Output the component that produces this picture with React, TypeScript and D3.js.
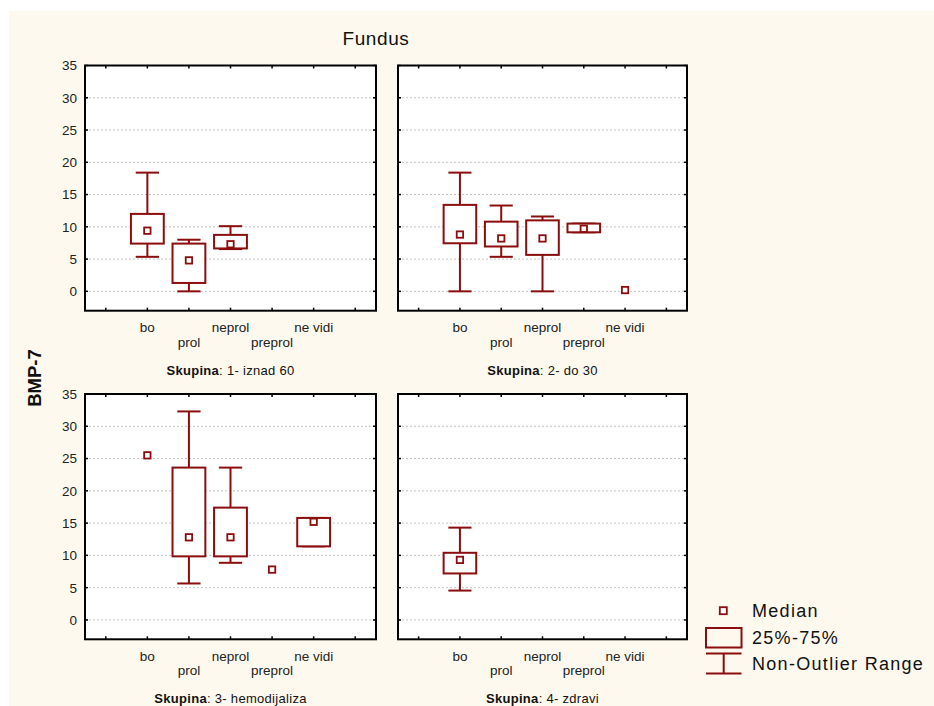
import React from 'react';
import * as d3 from 'd3';

// categories along x (empty slots at both ends)
const categories = ['bo', 'prol', 'neprol', 'preprol', 'ne vidi'];
const groups = ['1- iznad 60', '2- do 30', '3- hemodijaliza', '4- zdravi'];
const yTicks = [0, 5, 10, 15, 20, 25, 30, 35];

// per group, per category (null = no data)
const medians = [
	[9.4, 4.8, 7.3, null, null],
	[8.8, 8.2, 8.2, 9.7, 0.2],
	[25.5, 12.8, 12.8, 7.8, 15.2],
	[9.3, null, null, null, null],
];
const q1 = [
	[7.4, 1.3, 6.65, null, null],
	[7.45, 6.95, 5.65, 9.15, null],
	[null, 9.85, 9.85, null, 11.4],
	[7.2, null, null, null, null],
];
const q3 = [
	[12.0, 7.4, 8.75, null, null],
	[13.4, 10.8, 11.0, 10.5, null],
	[null, 23.6, 17.4, null, 15.8],
	[10.4, null, null, null, null],
];
const whiskerLow = [
	[5.35, 0, 6.55, null, null],
	[0, 5.35, 0, 9.15, null],
	[null, 5.65, 8.85, null, 11.4],
	[4.55, null, null, null, null],
];
const whiskerHigh = [
	[18.4, 8.0, 10.1, null, null],
	[18.4, 13.3, 11.6, 10.5, null],
	[null, 32.3, 23.6, null, 15.8],
	[14.3, null, null, null, null],
];

const RED = '#8b0d0d';
const FONT = '"Liberation Sans", Arial, sans-serif';

const frames = [
	{ x0: 85, x1: 376, y0: 65.5, y1: 310.7, labels: true },
	{ x0: 398, x1: 687, y0: 65.5, y1: 310.7, labels: false },
	{ x0: 85, x1: 376, y0: 394, y1: 639.3, labels: true },
	{ x0: 398, x1: 687, y0: 394, y1: 639.3, labels: false },
];

function Panel({ index }: { index: number }) {
	const f = frames[index];
	const slots = ['_l', ...categories, '_r'];
	const x = d3.scalePoint<string>().domain(slots).range([f.x0, f.x1]).padding(0.5);
	const y = d3.scaleLinear().domain([-3, 35]).range([f.y1, f.y0]);
	const step = x.step();
	const boxW = step * 0.79;
	const capW = step * 0.56;

	return (
		<g>
			<rect x={f.x0} y={f.y0} width={f.x1 - f.x0} height={f.y1 - f.y0} fill="#fff" />
			{yTicks.filter((t) => t < 35).map((t) => (
				<line key={'g' + t} x1={f.x0} x2={f.x1} y1={y(t)} y2={y(t)} stroke="#c4c4c4" strokeWidth={1} strokeDasharray="2,2" />
			))}
			{yTicks.map((t) => (
				<g key={'yt' + t}>
					<line x1={f.x0} x2={f.x0 + 3} y1={y(t)} y2={y(t)} stroke="#000" strokeWidth={1.5} />
					<line x1={f.x1} x2={f.x1 - 3} y1={y(t)} y2={y(t)} stroke="#000" strokeWidth={1.5} />
					{f.labels && (
						<text x={f.x0 - 8} y={y(t)} dy="0.36em" textAnchor="end" fontSize={13.5} fill="#222" fontFamily={FONT}>
							{t}
						</text>
					)}
				</g>
			))}
			{slots.map((s) => (
				<g key={'xt' + s}>
					<line x1={x(s)} x2={x(s)} y1={f.y0} y2={f.y0 + 3} stroke="#000" strokeWidth={1.5} />
					<line x1={x(s)} x2={x(s)} y1={f.y1} y2={f.y1 - 3} stroke="#000" strokeWidth={1.5} />
				</g>
			))}
			{categories.map((c, i) => {
				const cx = x(c) as number;
				const med = medians[index][i];
				const lo = q1[index][i];
				const hi = q3[index][i];
				const wl = whiskerLow[index][i];
				const wh = whiskerHigh[index][i];
				return (
					<g key={c}>
						{lo !== null && hi !== null && wl !== null && wh !== null && (
							<g stroke={RED} strokeWidth={2} fill="none">
								<line x1={cx} x2={cx} y1={y(hi)} y2={y(wh)} />
								<line x1={cx} x2={cx} y1={y(lo)} y2={y(wl)} />
								<line x1={cx - capW / 2} x2={cx + capW / 2} y1={y(wh)} y2={y(wh)} />
								<line x1={cx - capW / 2} x2={cx + capW / 2} y1={y(wl)} y2={y(wl)} />
								<rect x={cx - boxW / 2} y={y(hi)} width={boxW} height={y(lo) - y(hi)} fill="#fff" />
							</g>
						)}
						{med !== null && (
							<rect x={cx - 3.2} y={y(med) - 3.2} width={6.4} height={6.4} fill="#fff" stroke={RED} strokeWidth={1.8} />
						)}
						<text
							x={cx}
							y={f.y1 + (i % 2 === 0 ? 21.5 : 36)}
							textAnchor="middle"
							fontSize={13.5}
							fill="#222"
							fontFamily={FONT}
						>
							{c}
						</text>
					</g>
				);
			})}
			<rect x={f.x0} y={f.y0} width={f.x1 - f.x0} height={f.y1 - f.y0} fill="none" stroke="#000" strokeWidth={2} />
			<text
				x={(f.x0 + f.x1) / 2}
				y={f.y1 + 64}
				textAnchor="middle"
				fontSize={13}
				letterSpacing={0.3}
				fill="#111"
				fontFamily={FONT}
			>
				<tspan fontWeight="bold">Skupina</tspan>
				<tspan>: {groups[index]}</tspan>
			</text>
		</g>
	);
}

const App: React.FC = () => {
	return (
		<svg width={934} height={706} style={{ position: 'absolute', left: 0, top: 0 }}>
			<rect x={0} y={0} width={934} height={706} fill="#fff" />
			<rect x={9} y={11} width={925} height={695} fill="#fef9ee" />
			<text x={376} y={45} textAnchor="middle" fontSize={19} letterSpacing={0.6} fill="#111" fontFamily={FONT}>
				Fundus
			</text>
			<text
				transform="translate(41,378) rotate(-90)"
				textAnchor="middle"
				fontSize={18.5}
				fontWeight="bold"
				fill="#111"
				fontFamily={FONT}
			>
				BMP-7
			</text>
			{groups.map((g, i) => (
				<Panel key={g} index={i} />
			))}
			{/* legend */}
			<g stroke={RED} strokeWidth={2} fill="none">
				<rect x={719.8} y={607.2} width={7} height={7} fill="#fff" strokeWidth={1.8} />
				<rect x={706} y={628} width={35.5} height={19.5} />
				<line x1={706} x2={741.5} y1={653.5} y2={653.5} />
				<line x1={706} x2={741.5} y1={673.5} y2={673.5} />
				<line x1={723.7} x2={723.7} y1={653.5} y2={673.5} />
			</g>
			<g fontSize={18} letterSpacing={1.3} fill="#111" fontFamily={FONT}>
				<text x={752} y={617}>Median</text>
				<text x={752} y={643.5}>25%-75%</text>
				<text x={752} y={670}>Non-Outlier Range</text>
			</g>
		</svg>
	);
};

export default App;
